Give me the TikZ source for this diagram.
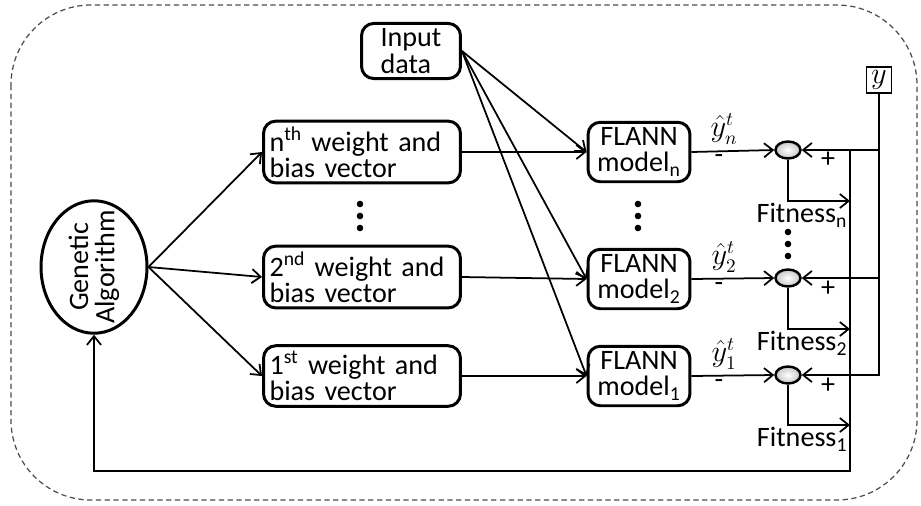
\documentclass[tikz,border=0pt]{standalone}
\usepackage{fontspec}
\setmainfont{Carlito}
\usetikzlibrary{arrows.meta,shapes.geometric}

\begin{document}
\begin{tikzpicture}[x=0.02cm, y=-0.02cm, line width=1pt,
    >={Straight Barb[length=5pt,width=8pt]},
    font=\fontsize{16}{15}\selectfont,
    blk/.style={draw, line width=1.7pt, rounded corners=7pt, inner sep=3pt},
    wbox/.style={blk, minimum width=3.94cm, minimum height=1.2cm, text width=3.7cm, align=left},
    fbox/.style={blk, minimum width=2.04cm, minimum height=1.14cm, align=center},
    sumnode/.style={draw, line width=1.4pt, ellipse, minimum width=0.5cm, minimum height=0.34cm,
        inner sep=0pt, inner color=white, outer color=gray!45},
    lbl/.style={inner sep=1pt}]
\useasboundingbox (0,0) rectangle (921,505);
% dashed frame round everything
\draw[gray!60!black, line width=0.7pt, dash pattern=on 3pt off 2pt, rounded corners=1.6cm]
    (11,5) rectangle (917,500);
%
% nodes
\node[draw, ellipse, line width=1.7pt, minimum width=2.12cm, minimum height=2.65cm] (ga) at (94,267) {};
\node[rotate=90, align=center] at (ga) {Genetic\\Algorithm};
\node[blk, minimum width=1.98cm, minimum height=1.08cm, align=left] (in) at (411,51) {Input\\data};
\node[wbox] (wn) at (362,152) {n\textsuperscript{th} weight and\\bias vector};
\node[wbox] (w2) at (362,277) {2\textsuperscript{nd} weight and\\bias vector};
\node[wbox] (w1) at (362,376) {1\textsuperscript{st}\ weight and\\bias vector};
\node[fbox] (fn) at (639,152) {FLANN\\model\textsubscript{n}};
\node[fbox] (f2) at (639,279) {FLANN\\model\textsubscript{2}};
\node[fbox] (f1) at (639,376) {FLANN\\model\textsubscript{1}};
\node[sumnode] (sn) at (788,150) {};
\node[sumnode] (s2) at (788,278) {};
\node[sumnode] (s1) at (788,375) {};
\node[draw, line width=1.1pt, minimum width=0.5cm, minimum height=0.52cm, inner sep=0pt] (yv) at (879,80) {$y$};
%
% feedback bus and fitness points
\coordinate (bt) at (850,150);
\coordinate (bb) at (850,471);
\coordinate (fitn) at (850,201);
\coordinate (fit2) at (850,329);
\coordinate (fit1) at (850,425);
%
% GA to the weight vectors
\draw[->] (ga.east) -- (wn.west);
\draw[->] (ga.east) -- (w2.west);
\draw[->] (ga.east) -- (w1.west);
% weights to the models
\draw[->] (wn.east) -- (fn.west);
\draw[->] (w2.east) -- (f2.west);
\draw[->] (w1.east) -- (f1.west);
% input data to the models
\draw[->] (in.east) -- (fn.west);
\draw[->] (in.east) -- (f2.west);
\draw[->] (in.east) -- (f1.west);
% model outputs
\draw[->] (fn.east) -- (sn.west);
\draw[->] (f2.east) -- (s2.west);
\draw[->] (f1.east) -- (s1.west);
% target y
\draw[->] (yv.south) |- (s1.east);
\draw[->] (yv |- sn) -- (sn.east);
\draw[->] (yv |- s2) -- (s2.east);
% fitness values
\draw[->] (sn.south) |- (fitn);
\draw[->] (s2.south) |- (fit2);
\draw[->] (s1.south) |- (fit1);
\node[lbl, anchor=north east] at (fitn) {Fitness\textsubscript{n}};
\node[lbl, anchor=north east] at (fit2) {Fitness\textsubscript{2}};
\node[lbl, anchor=north east] at (fit1) {Fitness\textsubscript{1}};
% back to GA
\draw[->] (bt) -- (bb) -| (ga.south);
%
% signs and outputs
\node[lbl, anchor=south] at (724,147) {$\hat{y}_n^t$};
\node[lbl, anchor=south] at (724,275) {$\hat{y}_2^t$};
\node[lbl, anchor=south] at (724,372) {$\hat{y}_1^t$};
\node[lbl, anchor=north] at (719,152) {-};
\node[lbl, anchor=north] at (719,280) {-};
\node[lbl, anchor=north] at (719,377) {-};
\node[lbl] at (828,160) {+};
\node[lbl] at (828,289) {+};
\node[lbl] at (828,386) {+};
%
% dots
\foreach \x/\y in {360/204, 638/204, 788/232}
    \foreach \k in {0,1,2}
        \fill (\x,\y+12*\k) circle (3.3);
\end{tikzpicture}
\end{document}
